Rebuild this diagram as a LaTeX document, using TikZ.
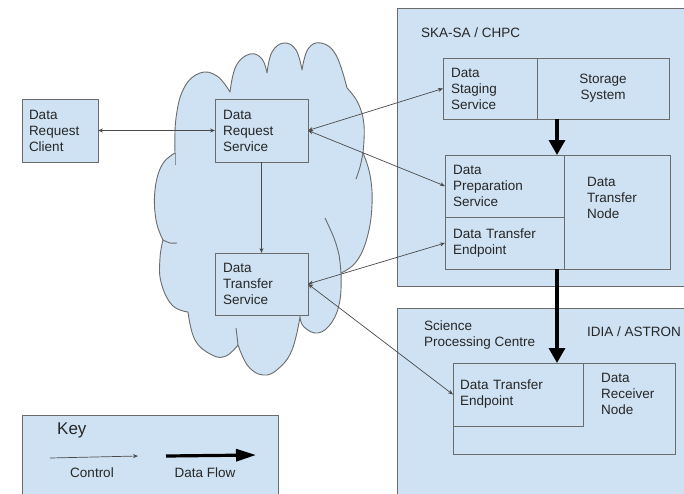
\documentclass[tikz,border=0pt]{standalone}
\usepackage{fontspec}
\setmainfont{Liberation Sans}
\usetikzlibrary{arrows.meta,calc}
\definecolor{boxfill}{HTML}{CFE2F3}
\definecolor{boxline}{HTML}{6B6B6B}
\definecolor{ctrl}{HTML}{4A4A4A}
\definecolor{txt}{HTML}{262626}
\begin{document}
\begin{tikzpicture}[x=1pt,y=-1pt,
  every node/.style={font=\fontsize{13.5}{16}\selectfont, text=txt},
  box/.style={draw=boxline, fill=boxfill, line width=0.9pt, anchor=north west,
              inner ysep=0pt, outer sep=0pt, align=left},
  lbl/.style={inner sep=0pt, align=left},
  cloudline/.style={draw=boxline, line width=0.9pt},
  ctrlarrow/.style={draw=ctrl, line width=0.7pt, {Stealth[length=5pt,width=4pt]}-{Stealth[length=5pt,width=4pt]}},
  ctrlone/.style={draw=ctrl, line width=0.7pt, -{Stealth[length=5pt,width=4pt]}},
  flowarrow/.style={draw=black, line width=3.3pt, -{Triangle[length=15pt,width=16pt]}}]
\useasboundingbox (0,0) rectangle (684,493);
\clip (0,0) rectangle (684,493);
\fill[white] (0,0) rectangle (684,493);

% cloud
\filldraw[cloudline, fill=boxfill, line join=round]
  plot[smooth, tension=0.7] coordinates {(175,153) (176,118) (184,88) (200,73) (217,76) (230,92)}
  -- plot[smooth, tension=0.7] coordinates {(230,92) (236,66) (250,54) (262,59) (267,73)}
  -- plot[smooth, tension=0.7] coordinates {(267,73) (272,52) (284,43) (296,50) (302,70)}
  -- plot[smooth, tension=0.7] coordinates {(302,70) (308,49) (321,43) (336,55) (347,88)}
  -- plot[smooth, tension=0.7] coordinates {(347,88) (358,103) (364,125) (363,153)}
  -- plot[smooth, tension=0.7] coordinates {(363,153) (370,175) (372,205) (367,238) (356,262) (341,273)}
  -- plot[smooth, tension=0.7] coordinates {(341,273) (340,300) (332,322) (318,333) (304,327) (300,317)}
  -- plot[smooth, tension=0.7] coordinates {(300,317) (292,350) (278,369) (263,375) (248,366) (238,345)}
  -- plot[smooth, tension=0.7] coordinates {(238,345) (226,356) (212,355) (195,340) (188,312)}
  -- plot[smooth, tension=0.7] coordinates {(188,312) (172,305) (161,282) (160,258) (163,240)}
  -- plot[smooth, tension=0.7] coordinates {(163,240) (156,220) (155,190) (162,165) (175,153)}
  -- cycle;
% inner strokes of the cloud
\draw[cloudline] plot[smooth] coordinates {(175,153) (175,159) (175,165)};
\draw[cloudline] plot[smooth] coordinates {(363,153) (360,167) (356,179)};
\draw[cloudline] plot[smooth] coordinates {(325,218) (334,238) (339,255) (341,273)};
\draw[cloudline] plot[smooth] coordinates {(300,317) (300,312) (299,307)};
\draw[cloudline] plot[smooth] coordinates {(238,345) (237,336) (236,328)};
\draw[cloudline] plot[smooth] coordinates {(163,240) (170,243) (177,243)};

% outer regions
\node[box, minimum width=300pt, minimum height=278pt] (ska) at (397,8) {};
\node[box, minimum width=300pt, minimum height=200pt] (idia) at (397,308) {};
\node[box, minimum width=256pt, minimum height=100pt] (key) at (22,415) {};

% boxes
\node[box, minimum width=76pt, minimum height=63pt, text width=62pt, inner xsep=7pt] (drc) at (22,99) {Data\\Request\\Client};
\node[box, minimum width=93pt, minimum height=63pt, text width=77pt, inner xsep=8pt] (drs) at (215,99) {Data\\Request\\Service};
\node[box, minimum width=93pt, minimum height=62pt, text width=77pt, inner xsep=8pt] (dts) at (215,253) {Data\\Transfer\\Service};
\node[box, minimum width=94pt, minimum height=61pt, text width=78pt, inner xsep=8pt] (dss) at (443,58) {Data\\Staging\\Service};
\node[box, minimum width=132pt, minimum height=61pt, text width=116pt, inner xsep=8pt, align=center] (ss) at (537,58) {Storage\\System};
\node[box, minimum width=106pt, minimum height=114pt] (dtn) at (564,155) {};
\node[box, minimum width=119pt, minimum height=62pt, text width=103pt, inner xsep=8pt] (dps) at (445,155) {Data\\Preparation\\Service};
\node[box, minimum width=119pt, minimum height=52pt, text width=103pt, inner xsep=8pt] (dte1) at (445,217) {Data Transfer\\Endpoint};
\node[box, minimum width=222pt, minimum height=91pt] (drn) at (453,363) {};
\node[box, minimum width=130pt, minimum height=63pt, text width=116pt, inner xsep=7pt] (dte2) at (453,363) {Data Transfer\\Endpoint};

% labels
\node[lbl, anchor=west] (dtnlbl) at (587,198) {Data\\Transfer\\Node};
\node[lbl, anchor=west] (drnlbl) at (601,394) {Data\\Receiver\\Node};
\node[lbl, anchor=west] (skalbl) at (421,33) {SKA-SA / CHPC};
\node[lbl, anchor=west] (spclbl) at (424,335) {Science\\Processing Centre};
\node[lbl, anchor=west] (idialbl) at (587,332) {IDIA / ASTRON};
\node[lbl, anchor=west, font=\fontsize{17}{20}\selectfont] (keylbl) at (57,430) {Key};
\node[lbl] (ctrllbl) at (92,473) {Control};
\node[lbl] (flowlbl) at (205,473) {Data Flow};

% control connectors
\draw[ctrlarrow] (drc.east) -- (drs.west);
\draw[ctrlone] (drs.south) -- (dts.north);
\draw[ctrlarrow] (drs.east) -- (dss.west);
\draw[ctrlarrow] (drs.east) -- (dps.west);
\draw[ctrlarrow] (dts.east) -- (dte1.west);
\draw[ctrlarrow] (dts.east) -- (dte2.west);

% data flow connectors
\coordinate (fx) at (557,0);
\draw[flowarrow] (ss.south -| fx) -- (dps.north -| fx);
\draw[flowarrow] (dte1.south -| fx) -- (dte2.north -| fx);

% key arrows
\coordinate (ka1) at (50,458);
\coordinate (ka2) at (138,456);
\coordinate (kb1) at (166,456);
\coordinate (kb2) at (256,455);
\draw[ctrlone] (ka1) -- (ka2);
\draw[draw=black, line width=3.2pt, -{Triangle[length=20pt,width=12pt]}] (kb1) -- (kb2);
\end{tikzpicture}
\end{document}
